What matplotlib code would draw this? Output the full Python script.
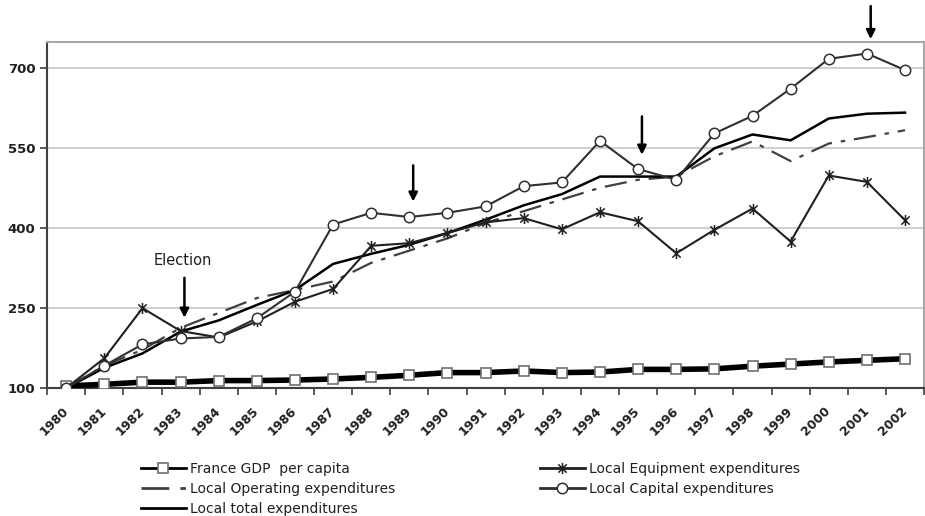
import numpy as np
import matplotlib
matplotlib.use('Agg')
from matplotlib import pyplot as plt
from matplotlib.path import Path

years = [str(y) for y in range(1980, 2003)]

gdp = [104, 107, 111, 111, 114, 114, 115, 117, 120, 124, 129, 129, 132, 129, 130,
       135, 135, 136, 141, 145, 149, 152, 155]
equipment = [100, 156, 250, 207, 195, 225, 262, 286, 367, 372, 391, 411, 419, 398, 430,
             413, 353, 397, 437, 375, 499, 487, 415]
operating = [100, 142, 172, 213, 241, 269, 284, 300, 335, 358, 381, 410, 432, 454, 476,
             491, 497, 535, 563, 526, 559, 571, 584]
capital = [100, 142, 182, 193, 196, 231, 281, 407, 429, 421, 429, 441, 479, 486, 564,
           511, 491, 578, 611, 662, 718, 728, 697]
total = [100, 138, 165, 206, 227, 256, 284, 333, 352, 369, 391, 416, 443, 464, 497,
         497, 497, 550, 576, 565, 606, 615, 617]

# arrows: (year index, start value, end value)
arrows = [(3.1, 307, 232), (9.1, 518, 450), (15.1, 610, 538), (21.1, 817, 755)]

star = Path([(0, -1), (0, 1), (-0.75, -0.75), (0.75, 0.75), (-0.75, 0.75), (0.75, -0.75)],
            [Path.MOVETO, Path.LINETO, Path.MOVETO, Path.LINETO, Path.MOVETO, Path.LINETO])

fig = plt.figure(figsize=(9.25, 5.16), dpi=100)
ax = fig.add_axes([0.051, 0.248, 0.948, 0.671])

x = np.arange(len(years))

ax.set_ylim(100, 750)
ax.set_xlim(-0.5, len(years) - 0.5)
ax.set_yticks([100, 250, 400, 550, 700])
ax.grid(axis='y', color='#d0d0d0', linewidth=1.5)
ax.set_axisbelow(True)

l_gdp, = ax.plot(x, gdp, '-', color='black', lw=4, marker='s', ms=7, mfc='white',
                 mec='#707070', mew=1.2, zorder=3)
l_op, = ax.plot(x, operating, color='#404040', lw=1.6, dashes=(10, 4, 2, 4), zorder=3)
l_tot, = ax.plot(x, total, '-', color='black', lw=1.8, zorder=3)
l_eq, = ax.plot(x, equipment, '-', color='#202020', lw=1.5, marker=star, ms=8,
                mec='#202020', mew=1.1, zorder=4)
l_cap, = ax.plot(x, capital, '-', color='#303030', lw=1.5, marker='o', ms=7.5, mfc='white',
                 mec='#303030', mew=1.1, zorder=4)

for xa, y0, y1 in arrows:
  ax.annotate('', xy=(xa, y1), xytext=(xa, y0), annotation_clip=False,
              arrowprops=dict(arrowstyle='-|>', color='black', lw=1.8, mutation_scale=13,
                              shrinkA=0, shrinkB=0))
ax.text(3.05, 340, 'Election', ha='center', va='center', fontsize=10.5, color='#202020')

# category axis: labels at centres, tick marks on boundaries
ax.set_xticks(x)
ax.set_xticklabels(years, rotation=45, ha='right', va='center', rotation_mode='anchor',
                   fontsize=9, fontweight='bold', color='#202020')
ax.set_xticks(np.arange(-0.5, len(years)), minor=True)
ax.tick_params(axis='x', which='major', length=0, pad=15)
ax.tick_params(axis='x', which='minor', length=5, width=1.2, color='#404040')
ax.tick_params(axis='y', length=5, width=1.2, color='#404040', labelsize=9.5)
for lab in ax.get_yticklabels():
  lab.set_fontweight('bold')
  lab.set_color('#202020')

for s in ['left', 'bottom']:
  ax.spines[s].set_color('#404040')
  ax.spines[s].set_linewidth(1.5)
for s in ['top', 'right']:
  ax.spines[s].set_color('#a8a8a8')
  ax.spines[s].set_linewidth(1.5)

handles = [l_gdp, l_op, l_tot, l_eq, l_cap]
labels = ['France GDP  per capita', 'Local Operating expenditures', 'Local total expenditures',
          'Local Equipment expenditures', 'Local Capital expenditures']
leg = fig.legend(handles, labels, loc='upper left', bbox_to_anchor=(0.145, 0.118), ncol=2,
                 frameon=False, fontsize=10, handlelength=3.2, columnspacing=10.4,
                 labelspacing=0.42, borderpad=0, handletextpad=0.35)
for h in leg.legend_handles:
  h.set_linewidth(2)
for t in leg.get_texts():
  t.set_color('#202020')

plt.savefig('out.png', dpi=100)
